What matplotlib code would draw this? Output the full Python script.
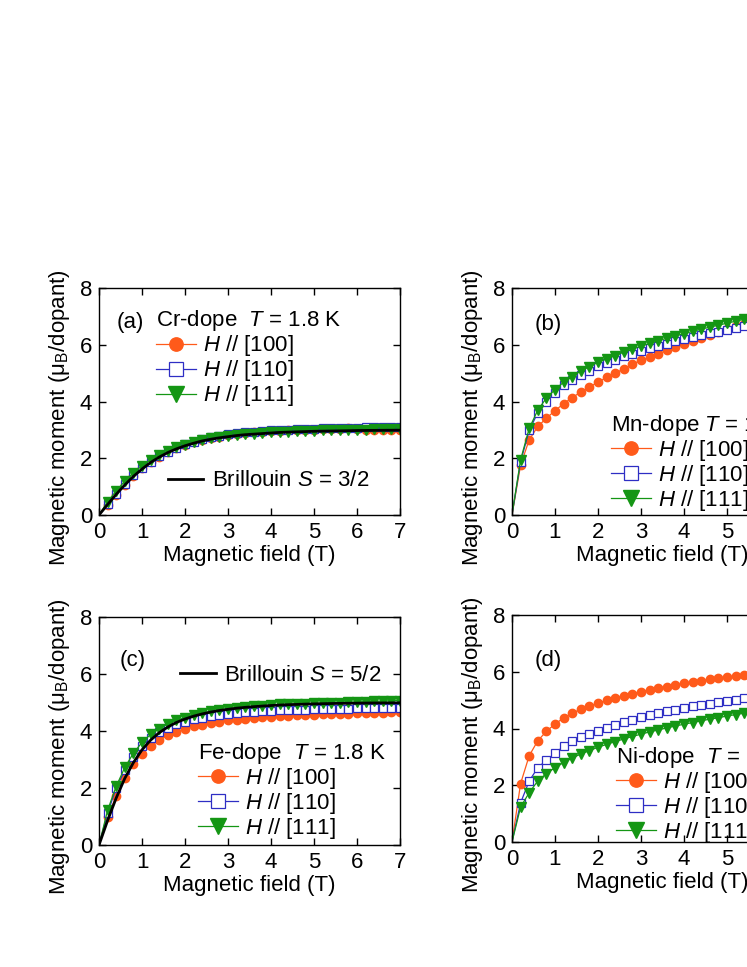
import matplotlib
matplotlib.use("Agg")
import matplotlib.pyplot as plt
from matplotlib.lines import Line2D

plt.rcParams['font.family'] = ['Liberation Sans', 'DejaVu Sans']
plt.rcParams['mathtext.fontset'] = 'custom'
plt.rcParams['mathtext.rm'] = 'Liberation Sans'
plt.rcParams['mathtext.it'] = 'Liberation Sans:italic'
plt.rcParams['font.size'] = 16

# magnetic field (T)
field = [0.0, 0.2, 0.4, 0.6, 0.8, 1.0, 1.2, 1.4, 1.6, 1.8, 2.0, 2.2, 2.4, 2.6, 2.8,
         3.0, 3.2, 3.4, 3.6, 3.8, 4.0, 4.2, 4.4, 4.6, 4.8, 5.0, 5.2, 5.4, 5.6, 5.8,
         6.0, 6.2, 6.4, 6.6, 6.8, 7.0]

# (a) Cr-dope
cr_100 = [0, 0.36, 0.72, 1.07, 1.38, 1.64, 1.86, 2.05, 2.21, 2.35, 2.46, 2.56, 2.64, 2.71,
          2.76, 2.81, 2.85, 2.88, 2.91, 2.93, 2.95, 2.97, 2.98, 2.99, 3.00, 3.01, 3.02,
          3.03, 3.04, 3.05, 3.02, 2.99, 2.98, 2.99, 2.99, 3.00]
cr_110 = [0, 0.38, 0.74, 1.09, 1.40, 1.66, 1.88, 2.07, 2.23, 2.37, 2.49, 2.59, 2.67, 2.74,
          2.79, 2.84, 2.88, 2.91, 2.94, 2.96, 2.98, 3.00, 3.01, 3.02, 3.03, 3.04, 3.05,
          3.06, 3.07, 3.08, 3.08, 3.09, 3.09, 3.10, 3.10, 3.11]
cr_111 = [0, 0.47, 0.85, 1.19, 1.49, 1.73, 1.94, 2.11, 2.26, 2.38, 2.48, 2.57, 2.64, 2.70,
          2.75, 2.79, 2.82, 2.85, 2.87, 2.89, 2.91, 2.93, 2.94, 2.95, 2.96, 2.97, 2.98,
          2.99, 3.00, 3.00, 3.01, 3.01, 3.02, 3.02, 3.03, 3.03]
brill_32 = [0, 0.37, 0.73, 1.06, 1.36, 1.62, 1.85, 2.04, 2.20, 2.33, 2.44, 2.53, 2.61, 2.67,
            2.72, 2.76, 2.80, 2.83, 2.85, 2.87, 2.89, 2.91, 2.92, 2.93, 2.94, 2.95, 2.955,
            2.96, 2.965, 2.97, 2.977, 2.98, 2.983, 2.985, 2.987, 2.989]

# (b) Mn-dope
mn_100 = [0, 1.76, 2.65, 3.12, 3.41, 3.68, 3.92, 4.14, 4.33, 4.51, 4.68, 4.85, 5.00, 5.15,
          5.32, 5.45, 5.56, 5.68, 5.80, 5.92, 6.04, 6.14, 6.25, 6.35, 6.46, 6.55, 6.65,
          6.74, 6.83, 6.92, 7.00, 7.08, 7.16, 7.24, 7.31, 7.38]
mn_110 = [0, 1.88, 2.98, 3.61, 4.00, 4.29, 4.59, 4.76, 4.94, 5.09, 5.24, 5.35, 5.47, 5.59,
          5.68, 5.79, 5.87, 5.95, 6.04, 6.12, 6.19, 6.26, 6.33, 6.40, 6.46, 6.53, 6.59,
          6.65, 6.71, 6.76, 6.82, 6.87, 6.92, 6.97, 7.02, 7.06]
mn_111 = [0, 1.95, 3.05, 3.70, 4.12, 4.42, 4.68, 4.88, 5.07, 5.23, 5.38, 5.50, 5.62, 5.74,
          5.85, 5.95, 6.05, 6.14, 6.23, 6.31, 6.39, 6.47, 6.55, 6.62, 6.69, 6.76, 6.83,
          6.90, 6.96, 7.02, 7.08, 7.14, 7.20, 7.25, 7.30, 7.35]

# (c) Fe-dope
fe_100 = [0, 0.98, 1.72, 2.36, 2.85, 3.20, 3.47, 3.68, 3.85, 3.98, 4.08, 4.16, 4.22, 4.28,
          4.33, 4.37, 4.40, 4.43, 4.46, 4.48, 4.50, 4.52, 4.53, 4.55, 4.56, 4.57, 4.58,
          4.59, 4.60, 4.61, 4.62, 4.63, 4.63, 4.64, 4.65, 4.66]
fe_110 = [0, 1.12, 2.00, 2.62, 3.10, 3.48, 3.76, 3.96, 4.12, 4.24, 4.33, 4.41, 4.47, 4.52,
          4.56, 4.60, 4.63, 4.65, 4.67, 4.69, 4.71, 4.72, 4.73, 4.74, 4.75, 4.76, 4.77,
          4.77, 4.78, 4.78, 4.79, 4.79, 4.80, 4.80, 4.81, 4.81]
fe_111 = [0, 1.22, 2.06, 2.72, 3.22, 3.60, 3.88, 4.08, 4.24, 4.37, 4.47, 4.56, 4.63, 4.69,
          4.74, 4.78, 4.82, 4.85, 4.87, 4.89, 4.91, 4.93, 4.94, 4.95, 4.96, 4.97, 4.98,
          4.99, 5.00, 5.01, 5.02, 5.03, 5.04, 5.05, 5.06, 5.07]
brill_52 = [0, 0.86, 1.65, 2.34, 2.89, 3.34, 3.68, 3.94, 4.14, 4.30, 4.42, 4.52, 4.60, 4.665,
            4.72, 4.76, 4.80, 4.83, 4.854, 4.875, 4.894, 4.91, 4.922, 4.933, 4.943, 4.951,
            4.958, 4.964, 4.969, 4.973, 4.977, 4.98, 4.983, 4.985, 4.987, 4.989]

# (d) Ni-dope
ni_100 = [0, 2.06, 3.04, 3.57, 3.90, 4.16, 4.37, 4.54, 4.68, 4.79, 4.89, 4.99, 5.07, 5.15,
          5.22, 5.30, 5.37, 5.43, 5.48, 5.54, 5.59, 5.64, 5.69, 5.73, 5.77, 5.80, 5.84,
          5.87, 5.91, 5.94, 5.97, 6.00, 6.03, 6.06, 6.09, 6.12]
ni_110 = [0, 1.38, 2.15, 2.62, 2.88, 3.13, 3.37, 3.55, 3.69, 3.81, 3.92, 4.03, 4.13, 4.22,
          4.30, 4.39, 4.46, 4.53, 4.60, 4.66, 4.72, 4.78, 4.83, 4.88, 4.93, 4.98, 5.02,
          5.07, 5.11, 5.15, 5.19, 5.23, 5.27, 5.31, 5.35, 5.38]
ni_111 = [0, 1.23, 1.74, 2.15, 2.41, 2.62, 2.80, 2.96, 3.10, 3.22, 3.34, 3.44, 3.54, 3.63,
          3.72, 3.80, 3.88, 3.95, 4.02, 4.09, 4.15, 4.21, 4.27, 4.33, 4.38, 4.44, 4.49,
          4.54, 4.59, 4.63, 4.68, 4.72, 4.76, 4.80, 4.84, 4.88]

labels = ['$H$ // [100]', '$H$ // [110]', '$H$ // [111]']
c_or = '#ff5a1a'
c_bl = '#2e2ec4'
c_gr = '#149614'

styles = [
    dict(color=c_or, marker='o', mfc=c_or, mec=c_or, ms=6),
    dict(color=c_bl, marker='s', mfc='white', mec=c_bl, ms=6, mew=0.9),
    dict(color=c_gr, marker='v', mfc=c_gr, mec=c_gr, ms=7),
]

W, H = 747, 967
fig = plt.figure(figsize=(W / 100, H / 100), dpi=100)


def make_ax(x0, y_top, y_bot):
    # pixel box -> figure fraction; width covers 0..7 T at 43 px per tesla
    return fig.add_axes([x0 / W, 1 - y_bot / H, 301 / W, (y_bot - y_top) / H])


panels = [
    (make_ax(99, 288, 515), [cr_100, cr_110, cr_111], brill_32, '3/2',
     '(a)', (0.06, 0.85), 'Cr-dope  $T$ = 1.8 K', (0.19, 0.91), (0.229, 0.15)),
    (make_ax(512, 288, 515), [mn_100, mn_110, mn_111], None, None,
     '(b)', (0.076, 0.84), 'Mn-dope $T$ = 1.8 K', (0.33, 0.45), None),
    (make_ax(99, 617, 845), [fe_100, fe_110, fe_111], brill_52, '5/2',
     '(c)', (0.07, 0.81), 'Fe-dope  $T$ = 1.8 K', (0.33, 0.456), (0.269, 0.745)),
    (make_ax(512, 615, 842), [ni_100, ni_110, ni_111], None, None,
     '(d)', (0.076, 0.80), 'Ni-dope  $T$ = 1.8 K', (0.345, 0.427), None),
]

for ax, series, brill, spin, tag, tagpos, title, legpos, bpos in panels:
    for ys, st in zip(series, styles):
        ax.plot(field, ys, lw=0.9, markevery=slice(1, None), **st)
    if brill is not None:
        bl, = ax.plot(field, brill, color='black', lw=2.0, zorder=5)
    ax.set_xlim(0, 7)
    ax.set_ylim(0, 8)
    ax.set_xticks(range(8))
    ax.set_yticks([0, 2, 4, 6, 8])
    ax.tick_params(direction='in', top=True, right=True, length=5, width=1,
                   labelsize=16, pad=5)
    for sp in ax.spines.values():
        sp.set_linewidth(1.0)
    ax.set_xlabel('Magnetic field (T)', fontsize=16)
    ax.set_ylabel('Magnetic moment (μ$_\\mathrm{B}$/dopant)', fontsize=16)
    ax.xaxis.set_label_coords(0.5, -0.13)
    ax.yaxis.set_label_coords(-0.09, 0.43)
    ax.text(tagpos[0], tagpos[1], tag, transform=ax.transAxes, va='center',
            ha='left', fontsize=16)

    handles = [Line2D([], [], lw=0.9, **dict(st, ms=st['ms'] * 1.6)) for st in styles]
    leg = ax.legend(handles, labels, title=title, loc='upper left',
                    bbox_to_anchor=legpos, frameon=False, borderpad=0,
                    borderaxespad=0, handlelength=1.8, handletextpad=0.3,
                    labelspacing=0.0, fontsize=16, title_fontsize=16,
                    alignment='left')
    if brill is not None:
        ax.add_artist(leg)
        ax.legend([bl], ['Brillouin $S$ = ' + spin], loc='center left',
                  bbox_to_anchor=bpos, frameon=False, borderpad=0,
                  borderaxespad=0, handlelength=1.6, handletextpad=0.4,
                  fontsize=16)

fig.savefig('out.png', dpi=100)
